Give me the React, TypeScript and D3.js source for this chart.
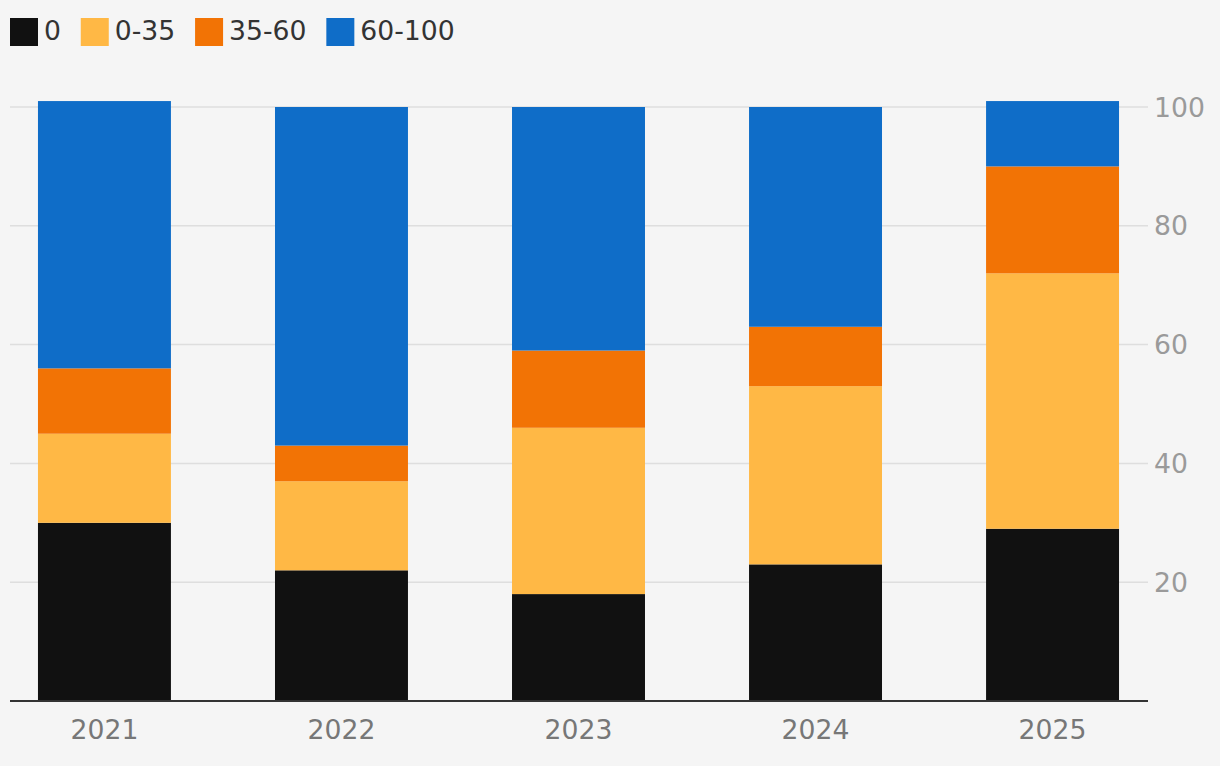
import { useEffect, useRef } from 'react'
import * as d3 from 'd3'

const years = ['2021', '2022', '2023', '2024', '2025']
const seriesKeys = ['0', '0-35', '35-60', '60-100']
const share0 = [30, 22, 18, 23, 29]
const share0to35 = [15, 15, 28, 30, 43]
const share35to60 = [11, 6, 13, 10, 18]
const share60to100 = [45, 57, 41, 37, 11]
const yTicks = [20, 40, 60, 80, 100]
const colors = ['#111111', '#ffb845', '#f27305', '#0f6dc8']

const FONT = '"DejaVu Sans", sans-serif'
const FONT_SIZE = '26.67px'

export default function App() {
  const svgRef = useRef<SVGSVGElement>(null)

  useEffect(() => {
    if (!svgRef.current) return
    document.body.style.margin = '0'

    const svg = d3.select(svgRef.current)
    svg.selectAll('*').remove()

    const width = 1220
    const height = 766

    svg.append('rect')
      .attr('width', width)
      .attr('height', height)
      .attr('fill', '#f5f5f5')

    // rows for stacking
    const rows = years.map((year, i) => ({
      year,
      '0': share0[i],
      '0-35': share0to35[i],
      '35-60': share35to60[i],
      '60-100': share60to100[i],
    }))
    const stacked = d3.stack<any>().keys(seriesKeys)(rows)

    const xScale = d3.scaleBand()
      .domain(years)
      .range([10, 1147])
      .paddingInner(0.439)
      .paddingOuter(0.118)

    const yScale = d3.scaleLinear()
      .domain([0, 100])
      .range([701, 107])

    const color = d3.scaleOrdinal<string>().domain(seriesKeys).range(colors)

    // gridlines
    svg.append('g')
      .selectAll('line')
      .data(yTicks)
      .enter().append('line')
      .attr('x1', 10)
      .attr('x2', 1148)
      .attr('y1', d => yScale(d))
      .attr('y2', d => yScale(d))
      .attr('stroke', '#dedede')
      .attr('stroke-width', 1.5)

    // y tick labels on the right
    svg.append('g')
      .selectAll('text')
      .data(yTicks)
      .enter().append('text')
      .attr('x', 1154)
      .attr('y', d => yScale(d))
      .attr('dy', '0.36em')
      .style('font-family', FONT)
      .style('font-size', FONT_SIZE)
      .style('fill', '#9a9a9a')
      .text(d => d)

    // bars
    svg.append('g')
      .selectAll('g')
      .data(stacked)
      .enter().append('g')
      .attr('fill', d => color(d.key))
      .selectAll('rect')
      .data(d => d)
      .enter().append('rect')
      .attr('x', d => xScale(d.data.year) as number)
      .attr('width', xScale.bandwidth())
      .attr('y', d => yScale(d[1]))
      .attr('height', d => yScale(d[0]) - yScale(d[1]))

    // baseline
    svg.append('line')
      .attr('x1', 10)
      .attr('x2', 1148)
      .attr('y1', yScale(0))
      .attr('y2', yScale(0))
      .attr('stroke', '#333333')
      .attr('stroke-width', 2)

    // x labels
    svg.append('g')
      .selectAll('text')
      .data(years)
      .enter().append('text')
      .attr('x', d => (xScale(d) as number) + xScale.bandwidth() / 2)
      .attr('y', 738.5)
      .attr('text-anchor', 'middle')
      .style('font-family', FONT)
      .style('font-size', FONT_SIZE)
      .style('fill', '#777777')
      .text(d => d)

    // legend
    const legend = svg.append('g')
    let lx = 10
    seriesKeys.forEach((key, i) => {
      legend.append('rect')
        .attr('x', lx)
        .attr('y', 18)
        .attr('width', 28)
        .attr('height', 28)
        .attr('fill', colors[i])
      const t = legend.append('text')
        .attr('x', lx + 34)
        .attr('y', 39.5)
        .style('font-family', FONT)
        .style('font-size', FONT_SIZE)
        .style('fill', '#333333')
        .text(key)
      const w = (t.node() as SVGTextElement).getComputedTextLength()
      lx = lx + 34 + w + 19.8
    })
  }, [])

  return (
    <div style={{ position: 'absolute', left: 0, top: 0 }}>
      <svg ref={svgRef} width={1220} height={766} style={{ display: 'block' }} />
    </div>
  )
}
